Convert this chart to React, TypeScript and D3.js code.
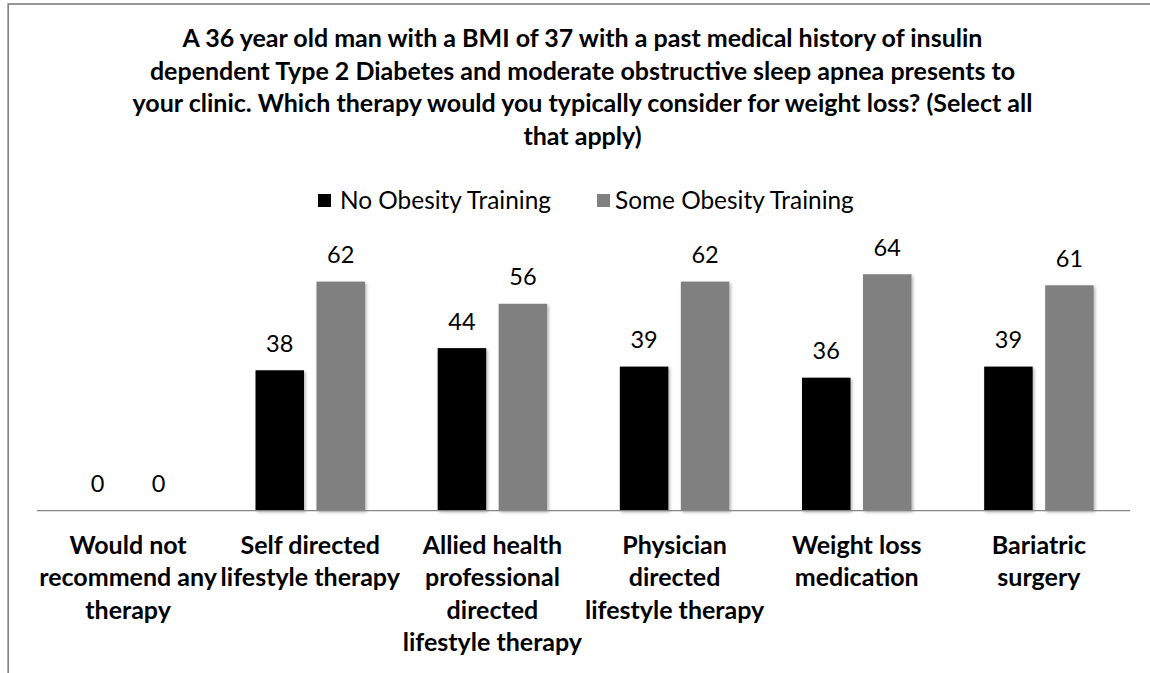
import React from "react";
import * as d3 from "d3";

const titleLines = [
  "A 36 year old man with a BMI of 37 with a past medical history of insulin",
  "dependent Type 2 Diabetes and moderate obstructive sleep apnea presents to",
  "your clinic. Which therapy would you typically consider for weight loss? (Select all",
  "that apply)",
];

const categoryLines = [
  ["Would not", "recommend any", "therapy"],
  ["Self directed", "lifestyle therapy"],
  ["Allied health", "professional", "directed", "lifestyle therapy"],
  ["Physician", "directed", "lifestyle therapy"],
  ["Weight loss", "medication"],
  ["Bariatric", "surgery"],
];

const seriesNames = ["No Obesity Training", "Some Obesity Training"];
const noTraining = [0, 38, 44, 39, 36, 39];
const someTraining = [0, 62, 56, 62, 64, 61];
const seriesColors = ["#000000", "#808080"];

const FONT = "Lato, 'Open Sans', sans-serif";

export default function App() {
  const W = 1150;
  const H = 673;
  const x0 = d3
    .scaleBand<number>()
    .domain(d3.range(categoryLines.length))
    .range([37, 1130])
    .paddingInner(0)
    .paddingOuter(0);
  const x1 = d3
    .scaleBand<number>()
    .domain([0, 1])
    .range([0, x0.bandwidth()])
    .paddingInner(0.205)
    .paddingOuter(0.596);
  const y = d3.scaleLinear().domain([0, 70]).range([510.7, 252.05]);
  const series = [noTraining, someTraining];

  return (
    <div style={{ position: "fixed", left: 0, top: 0, width: W, height: H, background: "#fff" }}>
      <svg width={W} height={H} style={{ display: "block" }}>
        <defs>
          <filter id="shadow" x="-20%" y="-20%" width="140%" height="140%">
            <feDropShadow dx="1.5" dy="1.5" stdDeviation="1.6" floodColor="#000" floodOpacity="0.3" />
          </filter>
        </defs>
        <rect x={0} y={0} width={W} height={H} fill="#fff" />
        <rect x={8.2} y={4} width={1300} height={900} fill="none" stroke="#868686" strokeWidth={1.7} />

        {/* title */}
        <g fontFamily={FONT} fontWeight="bold" fontSize={25} textAnchor="middle" fill="#000">
          {titleLines.map((t, i) => (
            <text key={i} x={582.5} y={47 + i * 32.5}>
              {t}
            </text>
          ))}
        </g>

        {/* legend */}
        <g fontFamily={FONT} fontSize={24.4} fill="#000">
          <rect x={318} y={194} width={13} height={13} fill={seriesColors[0]} />
          <text x={340} y={209}>{seriesNames[0]}</text>
          <rect x={597} y={194} width={13} height={13} fill={seriesColors[1]} />
          <text x={615} y={209}>{seriesNames[1]}</text>
        </g>

        {/* bars */}
        {series.map((vals, s) => (
          <g key={s} fill={seriesColors[s]} filter="url(#shadow)">
            {vals.map((v, i) =>
              v > 0 ? (
                <rect
                  key={i}
                  x={(x0(i) as number) + (x1(s) as number)}
                  y={y(v)}
                  width={x1.bandwidth()}
                  height={y(0) - y(v)}
                />
              ) : null
            )}
          </g>
        ))}

        {/* axis */}
        <line x1={37} x2={1130} y1={y(0)} y2={y(0)} stroke="#868686" strokeWidth={1.3} />

        {/* data labels */}
        <g fontFamily={FONT} fontSize={23.5} textAnchor="middle" fill="#000">
          {series.map((vals, s) =>
            vals.map((v, i) => (
              <text
                key={`${s}-${i}`}
                x={(x0(i) as number) + (x1(s) as number) + x1.bandwidth() / 2}
                y={y(v) - 18.6}
              >
                {v}
              </text>
            ))
          )}
        </g>

        {/* category labels */}
        <g fontFamily={FONT} fontWeight="bold" fontSize={25} textAnchor="middle" fill="#000">
          {categoryLines.map((lines, i) =>
            lines.map((l, j) => (
              <text key={`${i}-${j}`} x={(x0(i) as number) + x0.bandwidth() / 2} y={554 + j * 32.3}>
                {l}
              </text>
            ))
          )}
        </g>
      </svg>
    </div>
  );
}
